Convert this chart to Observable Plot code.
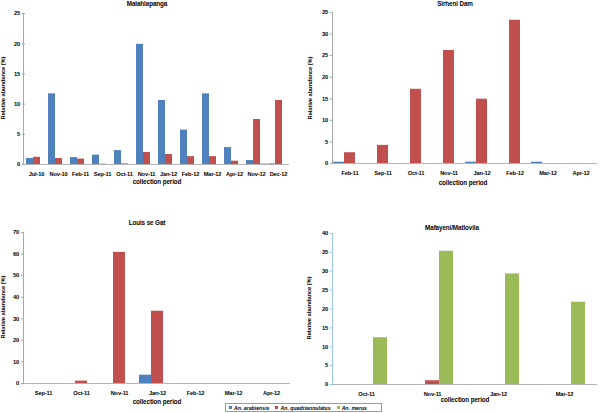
<!DOCTYPE html>
<html>
<head>
<meta charset="utf-8">
<script src="https://cdn.jsdelivr.net/npm/d3@7"></script>
<script src="https://cdn.jsdelivr.net/npm/@observablehq/plot@0.6"></script>
<style>
  html, body { margin: 0; padding: 0; background: #fff; }
  #wrap { position: relative; width: 600px; height: 413px; background: #fff; overflow: hidden;
          font-family: "Liberation Sans", Arial, sans-serif; font-weight: bold; color: #000; }
  .panel { position: absolute; }
  .lbl { position: absolute; font-size: 6.3px; white-space: nowrap; transform: translate(-50%, -50%); line-height: 1; letter-spacing: -0.1px; }
  .ylbl { position: absolute; font-size: 5.8px; white-space: nowrap; line-height: 1; letter-spacing: -0.1px;
          transform: translate(-50%, -50%) rotate(-90deg); }
  #legend { position: absolute; left: 225px; top: 403px; width: 157px; height: 9px; box-sizing: border-box;
            border: 1px solid #9a9a9a; background: #fff; font-size: 5.2px; font-style: italic;
            display: flex; align-items: center; padding-left: 3px; white-space: nowrap; }
  #legend .item { display: flex; align-items: center; margin-right: 6px; white-space: nowrap; }
  #legend .sw { width: 3px; height: 3px; margin-right: 2px; flex: none; }
</style>
</head>
<body>
<div id="wrap"></div>
<script>
// ---- data ----
const species = ["An. arabiensis", "An. quadriannulatus", "An. merus"];
const colors = ["#4F81BD", "#C0504D", "#9BBB59"];

// Malahlapanga
const malaPeriods = ["Jul-10", "Nov-10", "Feb-11", "Sep-11", "Oct-11", "Nov-11", "Jan-12", "Feb-12", "Mar-12", "Apr-12", "Nov-12", "Dec-12"];
const malaArabiensis = [1.0, 11.7, 1.15, 1.55, 2.3, 19.9, 10.6, 5.7, 11.7, 2.8, 0.65, 0.1];
const malaQuadri = [1.2, 1.0, 0.9, 0.05, 0.1, 2.0, 1.65, 1.3, 1.3, 0.55, 7.45, 10.6];
const malaMerus = [0, 0, 0, 0, 0, 0, 0, 0, 0, 0, 0.1, 0];
const malaTicks = [0, 5, 10, 15, 20, 25];

// Sirheni Dam
const sirPeriods = ["Feb-11", "Sep-11", "Oct-11", "Nov-11", "Jan-12", "Feb-12", "Mar-12", "Apr-12"];
const sirArabiensis = [0.3, 0, 0, 0, 0.3, 0, 0.3, 0];
const sirQuadri = [2.5, 4.2, 17.2, 26.2, 14.9, 33.2, 0, 0];
const sirMerus = [0, 0, 0, 0, 0, 0, 0, 0];
const sirTicks = [0, 5, 10, 15, 20, 25, 30, 35];

// Louis se Gat
const lsgPeriods = ["Sep-11", "Oct-11", "Nov-11", "Jan-12", "Feb-12", "Mar-12", "Apr-12"];
const lsgArabiensis = [0, 0, 0, 3.85, 0, 0, 0];
const lsgQuadri = [0, 1.1, 60.8, 33.5, 0, 0, 0];
const lsgMerus = [0, 0, 0, 0, 0, 0, 0];
const lsgTicks = [0, 10, 20, 30, 40, 50, 60, 70];

// Mafayeni/Matlovila
const mafPeriods = ["Oct-11", "Nov-11", "Jan-12", "Mar-12"];
const mafArabiensis = [0, 0, 0, 0];
const mafQuadri = [0, 1.0, 0, 0];
const mafMerus = [12.4, 35.3, 29.3, 21.8];
const mafTicks = [0, 5, 10, 15, 20, 25, 30, 35, 40];

// ---- drawing ----
const wrap = document.getElementById("wrap");

function addLabel(cls, text, x, y) {
  const d = document.createElement("div");
  d.className = cls;
  d.textContent = text;
  d.style.left = x + "px";
  d.style.top = y + "px";
  wrap.appendChild(d);
}

function drawPanel(cfg) {
  const rows = [];
  cfg.periods.forEach((p, i) => {
    cfg.series.forEach((s, j) => {
      rows.push({period: p, species: species[j], value: s[i]});
    });
  });
  const chart = Plot.plot({
    width: 300,
    height: cfg.height,
    marginLeft: cfg.ml, marginRight: cfg.mr, marginTop: cfg.mt, marginBottom: cfg.mb,
    style: {fontFamily: "'Liberation Sans', Arial, sans-serif", fontSize: "5.7px", fontWeight: "bold", background: "transparent", color: "#000", overflow: "visible", letterSpacing: "-0.15px"},
    fx: {domain: cfg.periods, padding: 0, label: null},
    x: {domain: species, paddingInner: 0, paddingOuter: cfg.outer, axis: null},
    y: {domain: [0, cfg.ticks[cfg.ticks.length - 1]], label: null},
    color: {domain: species, range: colors},
    marks: [
      Plot.barY(rows, {fx: "period", x: "species", y: "value", fill: "species"}),
      Plot.ruleY([0], {stroke: "#b4b4b4"}),
      Plot.axisY({ticks: cfg.ticks, tickSize: 3, tickPadding: 2.5, stroke: cfg.axisColor, fill: "#000", label: null, tickFormat: "d", facetAnchor: "left"}),
      Plot.axisFx({anchor: "bottom", tickSize: 0, tickPadding: 7, label: null, fill: "#000"})
    ]
  });
  // vertical value-axis line along the left edge of the plot frame
  const yr = chart.scale("y").range;
  d3.select(chart).append("line")
    .attr("x1", cfg.ml + 0.5).attr("x2", cfg.ml + 0.5)
    .attr("y1", yr[0]).attr("y2", yr[1])
    .attr("stroke", cfg.axisColor).attr("stroke-width", 1);
  const holder = document.createElement("div");
  holder.className = "panel";
  holder.style.left = cfg.left + "px";
  holder.style.top = cfg.top + "px";
  holder.appendChild(chart);
  wrap.appendChild(holder);
  addLabel("lbl", cfg.title, cfg.titleX, cfg.titleY);
  addLabel("lbl", "collection period", cfg.xlX, cfg.xlY);
  addLabel("ylbl", "Relative abundance (%)", cfg.ylX, cfg.ylY);
}

drawPanel({
  periods: malaPeriods, series: [malaArabiensis, malaQuadri, malaMerus], ticks: malaTicks,
  left: 0, top: 0, height: 195, ml: 23, mr: 10, mt: 13, mb: 31, outer: 0.02, axisColor: "#a8a8a8",
  title: "Malahlapanga", titleX: 147, titleY: 4, xlX: 157, xlY: 182, ylX: 4, ylY: 88
});
drawPanel({
  periods: sirPeriods, series: [sirArabiensis, sirQuadri, sirMerus], ticks: sirTicks,
  left: 300, top: 0, height: 195, ml: 32, mr: 3, mt: 12, mb: 32, outer: 0, axisColor: "#a8a8a8",
  title: "Sirheni Dam", titleX: 455, titleY: 4, xlX: 463, xlY: 183, ylX: 311, ylY: 88
});
drawPanel({
  periods: lsgPeriods, series: [lsgArabiensis, lsgQuadri, lsgMerus], ticks: lsgTicks,
  left: 0, top: 200, height: 213, ml: 23, mr: 10, mt: 32, mb: 30, outer: 0, axisColor: "#a8a8a8",
  title: "Louis se Gat", titleX: 147, titleY: 223, xlX: 157, xlY: 402, ylX: 4, ylY: 307
});
drawPanel({
  periods: mafPeriods, series: [mafArabiensis, mafQuadri, mafMerus], ticks: mafTicks,
  left: 300, top: 200, height: 213, ml: 32, mr: 2, mt: 33, mb: 29, outer: 0.72, axisColor: "#9dc3e6",
  title: "Mafayeni/Matlovila", titleX: 452, titleY: 228, xlX: 465, xlY: 400, ylX: 310, ylY: 308
});

// legend
const legend = document.createElement("div");
legend.id = "legend";
species.forEach((s, i) => {
  const item = document.createElement("div");
  item.className = "item";
  const sw = document.createElement("div");
  sw.className = "sw";
  sw.style.background = colors[i];
  const t = document.createElement("span");
  t.textContent = s;
  item.appendChild(sw);
  item.appendChild(t);
  legend.appendChild(item);
});
wrap.appendChild(legend);
</script>
</body>
</html>
